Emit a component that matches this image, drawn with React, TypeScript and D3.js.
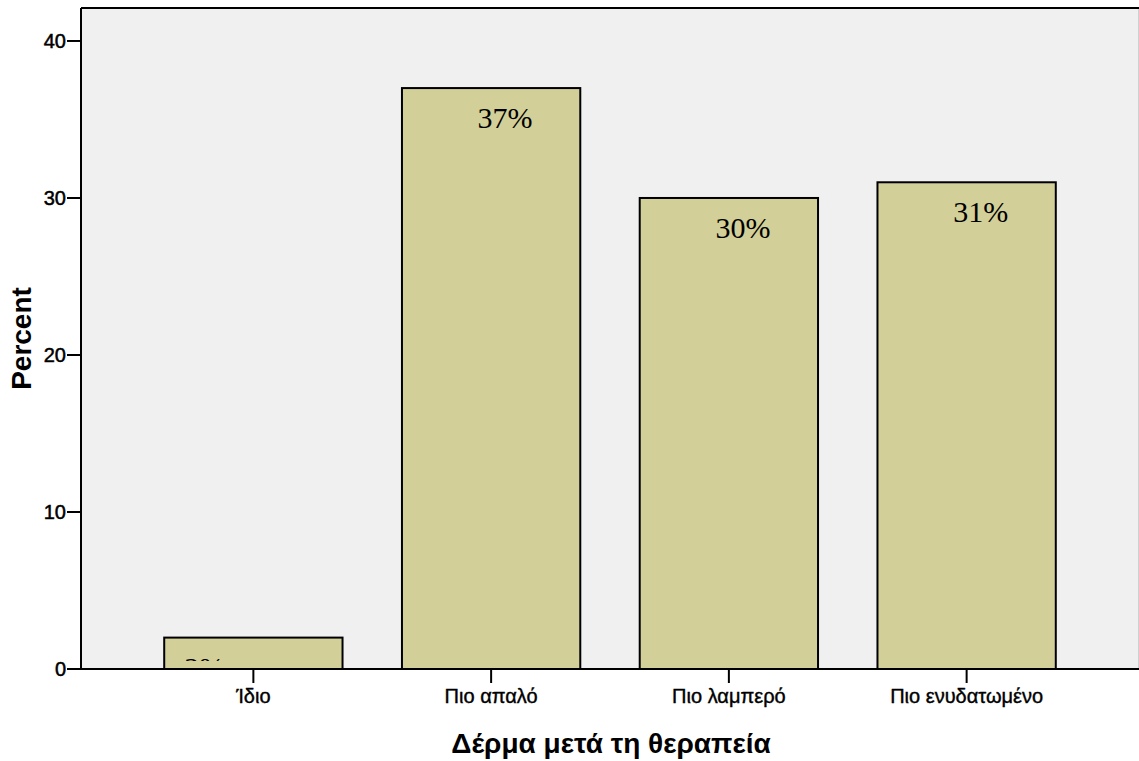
import React from "react";
import * as d3 from "d3";

const categories = ["Ίδιο", "Πιο απαλό", "Πιο λαμπερό", "Πιο ενυδατωμένο"];
const percents = [2, 37, 30, 31];
const valueLabels = ["2%", "37%", "30%", "31%"];
const yTicks = [0, 10, 20, 30, 40];

const W = 1139;
const H = 761;
const plot = { left: 81, right: 1139, top: 8, bottom: 669 };

export default function App() {
  const x = d3
    .scaleBand<string>()
    .domain(categories)
    .range([plot.left, plot.right])
    .paddingInner(0.25)
    .paddingOuter(0.35);
  const y = d3.scaleLinear().domain([0, 42.1]).range([plot.bottom, plot.top]);
  const sans = "'Liberation Sans', Arial, sans-serif";
  const serif = "'Liberation Serif', 'Times New Roman', serif";

  return (
    <div style={{ position: "absolute", left: 0, top: 0 }}>
      <svg width={W} height={H} style={{ display: "block", background: "#fff" }}>
        <defs>
          {categories.map((c, i) => (
            <clipPath id={`clip${i}`} key={c}>
              <rect
                x={x(c)!}
                y={y(percents[i])}
                width={x.bandwidth()}
                height={Math.max(0, y(0) - y(percents[i]) - 8)}
              />
            </clipPath>
          ))}
        </defs>
        <rect
          x={plot.left}
          y={plot.top}
          width={plot.right - plot.left}
          height={plot.bottom - plot.top}
          fill="#f0f0f0"
        />
        <line x1={plot.right - 0.5} x2={plot.right - 0.5} y1={plot.top} y2={plot.bottom} stroke="#d0d0d0" strokeWidth={1} />
        <line x1={plot.left} x2={plot.right} y1={plot.top} y2={plot.top} stroke="#000" strokeWidth={2} />
        {categories.map((c, i) => (
          <rect
            key={c}
            x={x(c)!}
            y={y(percents[i])}
            width={x.bandwidth()}
            height={y(0) - y(percents[i])}
            fill="#d3cf98"
            stroke="#000"
            strokeWidth={2}
          />
        ))}
        {categories.map((c, i) => {
          const first = i === 0;
          return (
            <text
              key={c}
              clipPath={`url(#clip${i})`}
              x={first ? x(c)! + 20 : x(c)! + x.bandwidth() / 2 + 14}
              y={y(percents[i]) + 40}
              textAnchor={first ? "start" : "middle"}
              fontFamily={serif}
              fontSize={30}
              fill="#000"
            >
              {valueLabels[i]}
            </text>
          );
        })}
        {/* axes */}
        <line x1={plot.left} x2={plot.left} y1={plot.top} y2={plot.bottom} stroke="#000" strokeWidth={2} />
        <line x1={plot.left} x2={plot.right} y1={plot.bottom} y2={plot.bottom} stroke="#000" strokeWidth={2} />
        {yTicks.map((t) => (
          <g key={t}>
            <line x1={plot.left - 14} x2={plot.left} y1={y(t)} y2={y(t)} stroke="#000" strokeWidth={2} />
            <text
              x={plot.left - 15}
              y={y(t)}
              dy="0.36em"
              textAnchor="end"
              fontFamily={sans}
              fontSize={20}
              stroke="#000"
              strokeWidth={0.5}
              fill="#000"
            >
              {t}
            </text>
          </g>
        ))}
        {categories.map((c) => {
          const cx = x(c)! + x.bandwidth() / 2;
          return (
            <g key={c}>
              <line x1={cx} x2={cx} y1={plot.bottom} y2={plot.bottom + 14} stroke="#000" strokeWidth={2} />
              <text
                x={cx}
                y={plot.bottom + 34}
                textAnchor="middle"
                fontFamily={sans}
                fontSize={20}
                stroke="#000"
                strokeWidth={0.4}
                fill="#000"
              >
                {c}
              </text>
            </g>
          );
        })}
        <text
          transform={`translate(31, ${(plot.top + plot.bottom) / 2}) rotate(-90)`}
          textAnchor="middle"
          fontFamily={sans}
          fontWeight="bold"
          fontSize={28}
          fill="#000"
        >
          Percent
        </text>
        <text
          x={611}
          y={753}
          textAnchor="middle"
          fontFamily={sans}
          fontWeight="bold"
          fontSize={28}
          fill="#000"
        >
          Δέρμα μετά τη θεραπεία
        </text>
      </svg>
    </div>
  );
}
